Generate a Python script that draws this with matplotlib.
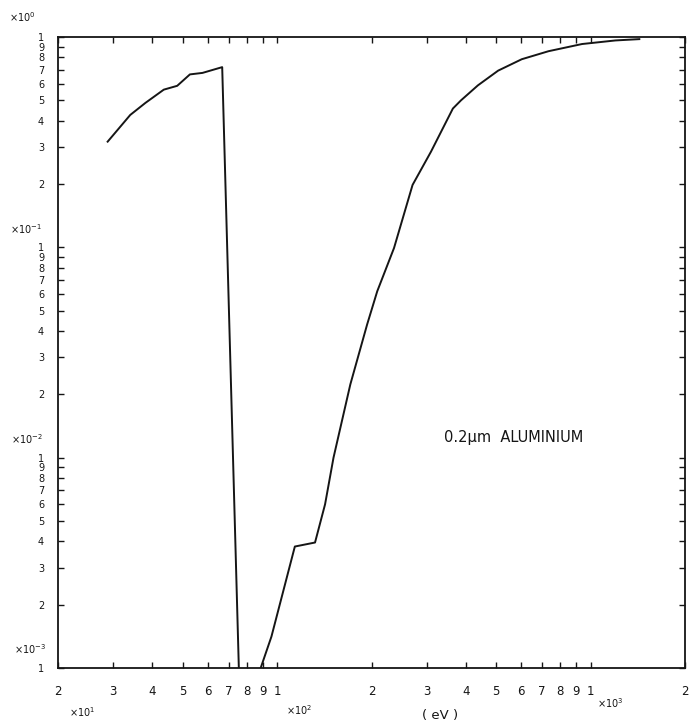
import matplotlib
matplotlib.use("Agg")
import matplotlib.pyplot as plt
from matplotlib.ticker import FixedLocator, FixedFormatter, NullLocator

# transmission of a 0.2 um aluminium filter
# below the L edge
energy_lo = [28.8, 34.0, 38.0, 43.5, 48.0, 52.7, 57.8, 66.8, 75.8]
trans_lo = [0.318, 0.426, 0.486, 0.562, 0.586, 0.664, 0.675, 0.719, 0.0008]
# above the L edge
energy_hi = [86.5, 95.9, 113.9, 132.1, 142.2, 151.3, 171.2, 193.7, 208.6,
             236.0, 270.4, 309.6, 363.6, 386.0, 437.0, 507.0, 603.0, 734.0,
             939.0, 1200.0, 1430.0]
trans_hi = [0.0009, 0.00141, 0.00378, 0.00395, 0.0060, 0.0100, 0.0223, 0.0430,
            0.0618, 0.0993, 0.198, 0.285, 0.457, 0.500, 0.589, 0.692, 0.784,
            0.856, 0.926, 0.963, 0.977]

x_ticks = [20, 30, 40, 50, 60, 70, 80, 90, 100, 200, 300, 400, 500, 600,
           700, 800, 900, 1000, 2000]
x_labels = ["2", "3", "4", "5", "6", "7", "8", "9", "1", "2", "3", "4", "5",
            "6", "7", "8", "9", "1", "2"]
y_ticks = [m * 10.0 ** e for e in (-3, -2, -1) for m in range(1, 10)] + [1.0]
y_labels = [str(m) for e in (-3, -2, -1) for m in range(1, 10)] + ["1"]

W, H = 689, 728
fig = plt.figure(figsize=(W / 100, H / 100), dpi=100)
ax = fig.add_axes([58 / W, 1 - 668 / H, (685 - 58) / W, (668 - 37) / H])

ax.plot(energy_lo, trans_lo, color="#151515", lw=1.4)
ax.plot(energy_hi, trans_hi, color="#151515", lw=1.4)

ax.set_xscale("log")
ax.set_yscale("log")
ax.set_xlim(20, 2000)
ax.set_ylim(1e-3, 1)

ax.xaxis.set_major_locator(FixedLocator(x_ticks))
ax.xaxis.set_major_formatter(FixedFormatter(x_labels))
ax.yaxis.set_major_locator(FixedLocator(y_ticks))
ax.yaxis.set_major_formatter(FixedFormatter(y_labels))
ax.xaxis.set_minor_locator(NullLocator())
ax.yaxis.set_minor_locator(NullLocator())
ax.tick_params(which="major", direction="in", length=4.5, width=1.0,
               top=True, right=True, colors="#151515")
ax.tick_params(axis="x", pad=12, labelsize=8.5)
ax.tick_params(axis="y", pad=10, labelsize=7)
for sp in ax.spines.values():
    sp.set_linewidth(1.3)
    sp.set_color("#151515")

ax.text(0.615, 0.366, "0.2\u00b5m  ALUMINIUM", transform=ax.transAxes,
        fontsize=10.5, ha="left", va="center", color="#151515")


def ftext(x, y, s, size=7):
    fig.text(x / W, 1 - y / H, s, fontsize=size, ha="center", va="center",
             color="#151515")


ftext(22, 17, r"$\times10^{0}$")
ftext(26, 229, r"$\times10^{-1}$")
ftext(27, 439, r"$\times10^{-2}$")
ftext(30, 649, r"$\times10^{-3}$")
ftext(82, 712, r"$\times10^{1}$")
ftext(299, 710, r"$\times10^{2}$")
ftext(610, 703, r"$\times10^{3}$")
ftext(440, 715, "( eV )", size=9.5)

fig.savefig("out.png", dpi=100, facecolor="white")
